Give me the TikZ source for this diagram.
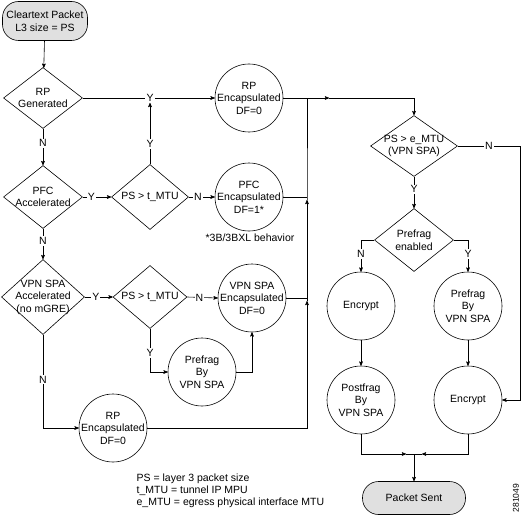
\documentclass[tikz,border=0pt]{standalone}
\usepackage{fontspec}
\setmainfont{Liberation Sans}
\usepackage{tikz}
\usetikzlibrary{shapes.geometric, positioning}
\usetikzlibrary{arrows}

\begin{document}
\begin{tikzpicture}[x=1pt,y=-1pt,>=stealth',semithick,
                    font=\fontsize{10.5}{12.5}\selectfont,
                    every label/.style={align=center,inner sep=0pt},
                    pill/.style={draw,rounded corners=16pt,fill=black!12,align=center},
                    dia/.style={diamond,draw,inner sep=0pt},
                    proc/.style={circle,draw,inner sep=0pt,minimum size=68pt},
                    yn/.style={fill=white,inner sep=1pt}]
   \useasboundingbox (0,0) rectangle (524,516);
   % start and end
   \node[pill,minimum width=85pt,minimum height=39pt] (clear) at (45,21)
        {Cleartext Packet\\L3 size = PS};
   \node[pill,minimum width=103pt,minimum height=33pt] (sent) at (414,498) {Packet Sent};
   % decisions
   \node[dia,minimum width=79pt,minimum height=61pt,label=center:{RP\\Generated}] (rpgen) at (43,98) {};
   \node[dia,minimum width=79pt,minimum height=63pt,label=center:{PFC\\Accelerated}] (pfcacc) at (43,197) {};
   \node[dia,minimum width=83pt,minimum height=75pt,label=center:{VPN SPA\\Accelerated\\(no mGRE)}] (vpnacc) at (43,297) {};
   \node[dia,minimum width=77pt,minimum height=65pt,label=center:{PS > t\_MTU}] (ps1) at (150,197) {};
   \node[dia,minimum width=74pt,minimum height=63pt,label=center:{PS > t\_MTU}] (ps2) at (150,297) {};
   \node[dia,minimum width=87pt,minimum height=61pt,label=center:{PS > e\_MTU\\(VPN SPA)}] (pse) at (414,146) {};
   \node[dia,minimum width=79pt,minimum height=63pt,label=center:{Prefrag\\enabled}] (pen) at (414,240) {};
   % processes
   \node[proc,label=center:{RP\\Encapsulated\\DF=0}] (rpenc) at (249,98) {};
   \node[proc,label=center:{PFC\\Encapsulated\\DF=1*}] (pfcenc) at (249,197) {};
   \node[proc,label=center:{VPN SPA\\Encapsulated\\DF=0}] (vpnenc) at (252,298) {};
   \node[proc,label=center:{Prefrag\\By\\VPN SPA}] (prefrag1) at (202,372) {};
   \node[proc,label=center:{RP\\Encapsulated\\DF=0}] (rpenc2) at (113,428) {};
   \node[proc,label=center:{Encrypt}] (enc1) at (361,306) {};
   \node[proc,label=center:{Prefrag\\By\\VPN SPA}] (prefrag2) at (468,306) {};
   \node[proc,label=center:{Postfrag\\By\\VPN SPA}] (postfrag) at (361,400) {};
   \node[proc,label=center:{Encrypt}] (enc2) at (468,400) {};
   % notes
   \node (behav) at (250,238) {*3B/3BXL behavior};
   \node[anchor=west,align=left,font=\fontsize{10.5}{12}\selectfont] (legend) at (133,491)
        {PS = layer 3 packet size\\t\_MTU = tunnel IP MPU\\e\_MTU = egress physical interface MTU};
   \node[rotate=90,font=\fontsize{8.5}{10}\selectfont] (fig) at (516,498) {281049};
   % junctions
   \node[yn] (yj) at (150,98) {Y};
   \coordinate (j1) at (307,98);
   \coordinate (j2) at (307,197);
   \coordinate (j3) at (307,298);
   \coordinate (bot) at (414,454);

   \draw[->] (clear) -- (rpgen);
   \draw (rpgen.east) -- (yj);
   \draw[->] (yj) -- (rpenc.west);
   \draw[->] (ps1.north) -- node[yn,pos=0.33] {Y} (yj);
   \draw[->] (rpgen.south) -- node[yn,pos=0.4] {N} (pfcacc.north);
   \draw[->] (pfcacc.east) -- node[yn,pos=0.3] {Y} (ps1.west);
   \draw[->] (ps1.east) -- node[yn,pos=0.35] {N} (pfcenc.west);
   \draw[->] (pfcacc.south) -- node[yn,pos=0.4] {N} (vpnacc.north);
   \draw[->] (vpnacc.east) -- node[yn,pos=0.4] {Y} (ps2.west);
   \draw[->] (ps2.east) -- node[yn,pos=0.4] {N} (vpnenc.west);
   \draw[->] (ps2.south) |- node[yn,pos=0.28] {Y} (prefrag1.west);
   \draw[->] (prefrag1.east) -| (vpnenc.south);
   \draw[->] (vpnacc.south) |- node[yn,pos=0.24] {N} (rpenc2.west);
   % collecting line
   \draw[->] (rpenc2.east) -| (307,301);
   \draw (307,301) -- (j3);
   \draw (vpnenc.east) -- (j3);
   \draw[->] (j3) -- (307,200);
   \draw (307,200) -- (j2) -- (j1);
   \draw (pfcenc.east) -- (j2);
   \draw[->] (rpenc.east) -- (329,98);
   \draw[->] (329,98) -| (pse.north);
   % right side
   \draw[->] (pse.east) -- node[yn,pos=0.5] {N} (520,146) |- (enc2.east);
   \draw[->] (pse.south) -- node[yn,pos=0.4] {Y} (pen.north);
   \draw[->] (pen.west) -| node[yn,pos=0.72] {N} (enc1.north);
   \draw[->] (pen.east) -| node[yn,pos=0.72] {Y} (prefrag2.north);
   \draw[->] (enc1) -- (postfrag);
   \draw[->] (prefrag2) -- (enc2);
   \draw[->] (postfrag.south) |- (406,454);
   \draw (406,454) -- (bot);
   \draw[->] (enc2.south) |- (422,454);
   \draw (422,454) -- (bot);
   \draw[->] (bot) -- (sent.north);
\end{tikzpicture}
\end{document}
